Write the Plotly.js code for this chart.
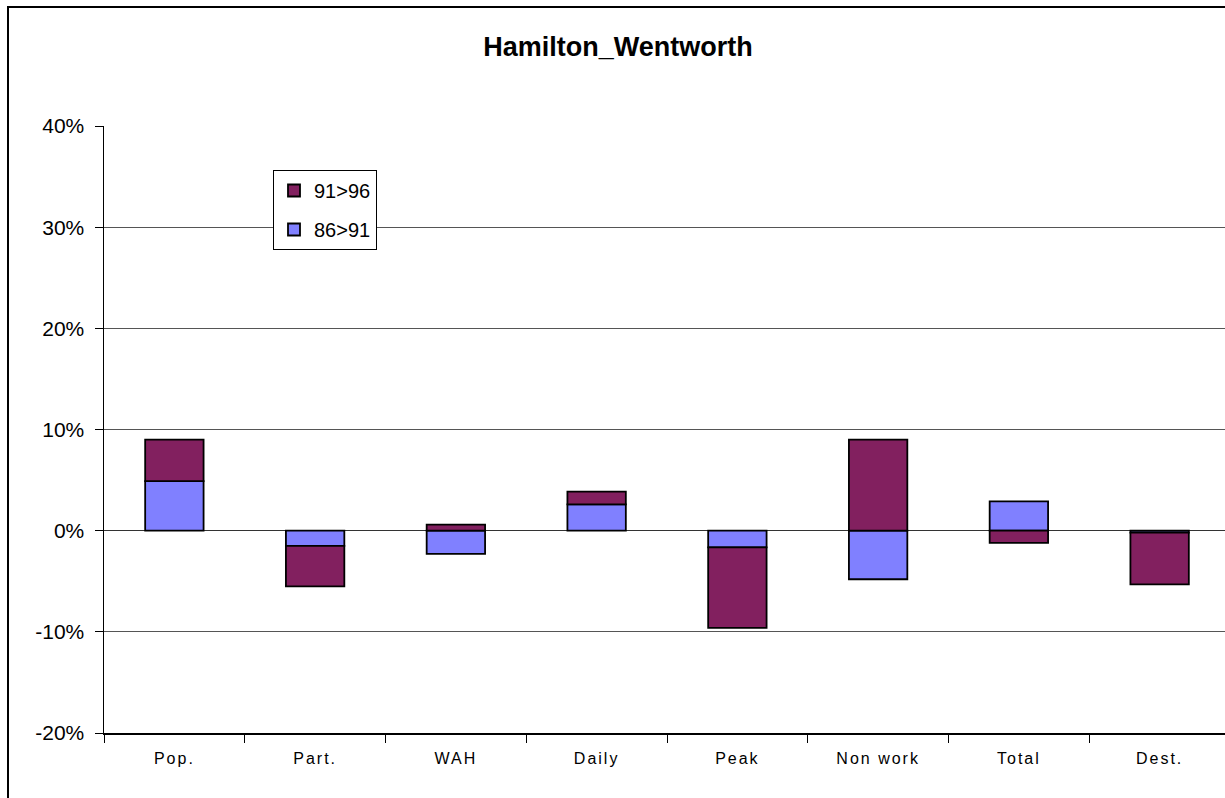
<!DOCTYPE html>
<html>
<head>
<meta charset="utf-8">
<script src="https://cdn.plot.ly/plotly-3.0.1.min.js"></script>
<style>
  html, body { margin: 0; padding: 0; overflow: hidden; background: #fff; }
  #chart { width: 1240px; height: 798px; }
  /* the original category labels are spaced out a little */
  #chart .xtick text { letter-spacing: 2px; }
</style>
</head>
<body>
<div id="chart"></div>
<script>
const categories = ['Pop.', 'Part.', 'WAH', 'Daily', 'Peak', 'Non work', 'Total', 'Dest.'];
const change8691 = [4.9, -1.5, -2.3, 2.6, -1.65, -4.8, 2.9, -0.2];
const change9196 = [4.1, -4.0, 0.6, 1.25, -7.95, 9.0, -1.2, -5.1];
const yTicks = [-20, -10, 0, 10, 20, 30, 40];

const W = 1240, H = 798;
const L = 104, R = W - 1230, T = 126, B = H - 733;
const plotW = W - L - R, plotH = H - T - B;

// paper coords for the outer chart border (left + top edges only, the rest is cropped)
const bx = (8 - L) / plotW;
const by = (H - B - 7) / plotH;

const bar = (name, y, color, rank) => ({
  type: 'bar',
  name,
  legendgroup: name,
  legendrank: rank,
  x: categories,
  y,
  marker: { color, line: { color: '#000', width: 1.8 } },
  hoverinfo: 'x+y',
});

Plotly.newPlot('chart', [
  bar('86>91', change8691, '#8080FF', 2),
  bar('91>96', change9196, '#82205F', 1),
], {
  width: W,
  height: H,
  barmode: 'relative',
  bargap: 0.585,
  margin: { l: L, r: R, t: T, b: B },
  paper_bgcolor: '#fff',
  plot_bgcolor: '#fff',
  font: { family: 'Liberation Sans, Arial, sans-serif', color: '#000' },
  title: {
    text: '<b>Hamilton_Wentworth</b>',
    font: { size: 27, color: '#000' },
    xref: 'paper',
    x: (618 - L) / plotW,
    xanchor: 'center',
    yref: 'container',
    y: 1 - 47 / H,
    yanchor: 'middle',
  },
  showlegend: true,
  legend: {
    traceorder: 'grouped',
    tracegroupgap: 10,
    x: (273 - L) / plotW,
    y: (H - B - 170) / plotH,
    xanchor: 'left',
    yanchor: 'top',
    bgcolor: '#fff',
    bordercolor: '#000',
    borderwidth: 1,
    font: { size: 20 },
    itemwidth: 30,
  },
  xaxis: {
    type: 'category',
    tickson: 'boundaries',
    ticks: 'outside',
    ticklen: 8,
    tickcolor: '#000',
    showgrid: false,
    showline: true,
    linecolor: '#000',
    linewidth: 1.5,
    tickfont: { size: 16 },
    ticklabelstandoff: 10,
    fixedrange: true,
  },
  yaxis: {
    range: [-20, 40],
    tickvals: yTicks,
    ticktext: yTicks.map((v) => v + '%'),
    ticks: 'outside',
    ticklen: 8,
    tickcolor: '#000',
    showline: true,
    linecolor: '#000',
    linewidth: 1.5,
    showgrid: true,
    gridcolor: '#555',
    gridwidth: 1,
    zeroline: true,
    zerolinecolor: '#333',
    zerolinewidth: 1.2,
    tickfont: { size: 21 },
    ticklabelstandoff: 6,
    fixedrange: true,
  },
  shapes: [{
    type: 'path',
    xref: 'paper',
    yref: 'paper',
    path: `M ${bx} -0.2 L ${bx} ${by} L 1.1 ${by}`,
    line: { color: '#000', width: 2 },
  }],
}, { displayModeBar: false, staticPlot: true });
</script>
</body>
</html>
